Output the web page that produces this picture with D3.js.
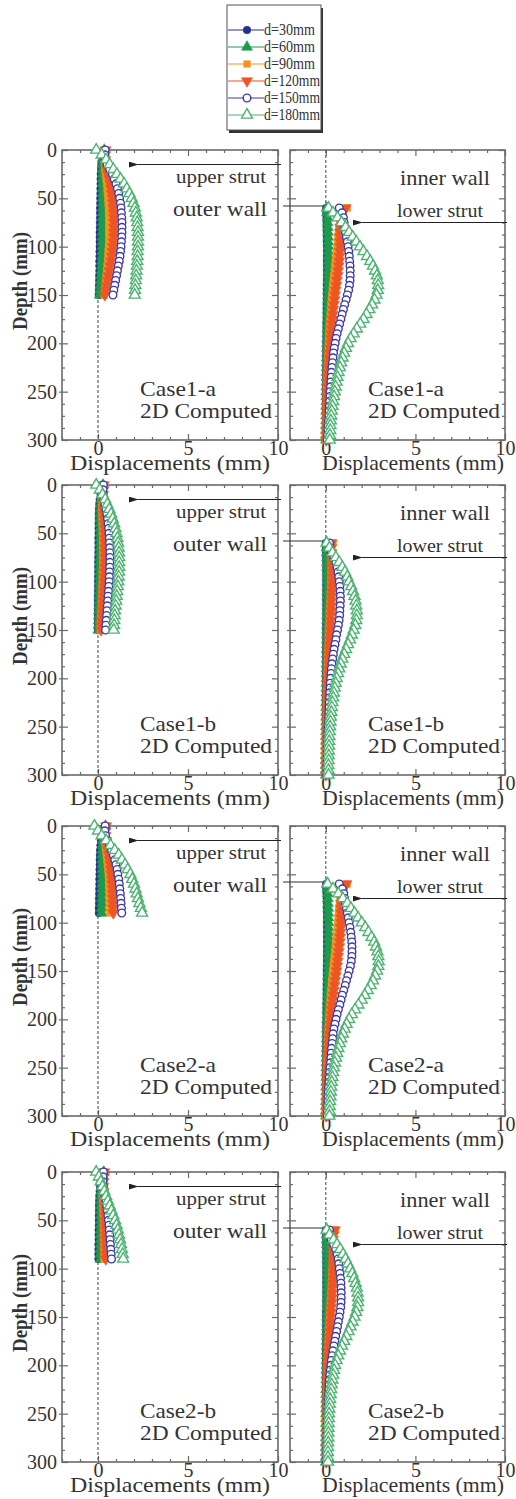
<!DOCTYPE html>
<html>
<head>
<meta charset="utf-8">
<script src="https://cdn.jsdelivr.net/npm/d3@7"></script>
<style>
body { margin: 0; background: #fff; }
text { font-family: "Liberation Serif", "Times New Roman", serif; fill: #333; }
.tick text { font-family: "Liberation Serif", "Times New Roman", serif; font-size: 20px; fill: #333; }
.tick line { stroke: #6a6a6a; stroke-width: 1.2; }
</style>
</head>
<body>
<svg id="chart" width="516" height="1499"></svg>
<script>
// SERIES / LABELS
var seriesNames = ["d=30mm", "d=60mm", "d=90mm", "d=120mm", "d=150mm", "d=180mm"];
var seriesColors = ["#24318f", "#1e9a4d", "#f7921e", "#ee5524", "#3c3aa8", "#4db371"];
var seriesSymbols = ["circle", "triangle", "square", "triangleDown", "circleOpen", "triangleOpen"];
var caseNames = ["Case1-a", "Case1-b", "Case2-a", "Case2-b"];
var xTicks = [0, 5, 10];
var yTicks = [0, 50, 100, 150, 200, 250, 300];

// DEPTHS (mm)
var depthOuterLong = [0,5,10,15,20,25,30,35,40,45,50,55,60,65,70,75,80,85,90,95,100,105,110,115,120,125,130,135,140,145,150];
var depthOuterShort = [0,5,10,15,20,25,30,35,40,45,50,55,60,65,70,75,80,85,90];
var depthInner = [60,65,70,75,80,85,90,95,100,105,110,115,120,125,130,135,140,145,150,155,160,165,170,175,180,185,190,195,200,205,210,215,220,225,230,235,240,245,250,255,260,265,270,275,280,285,290,295,300];

// CASE1-a (displacement, mm) - one row per series, d=30 ... d=180
var case1aOuter = [
  [0.35,0.3,0.25,0.2,0.18,0.16,0.15,0.15,0.14,0.14, 0.13,0.13,0.12,0.12,0.12,0.11,0.11,0.1,0.1,0.1, 0.1,0.09,0.09,0.08,0.08,0.08,0.07,0.07,0.06,0.06, 0.05],
  [0.35,0.32,0.28,0.26,0.25,0.25,0.25,0.25,0.26,0.26, 0.26,0.26,0.26,0.26,0.26,0.26,0.26,0.25,0.25,0.25, 0.24,0.23,0.22,0.21,0.2,0.19,0.17,0.16,0.14,0.12, 0.1],
  [0.4,0.38,0.36,0.36,0.38,0.42,0.45,0.48,0.5,0.52, 0.55,0.56,0.58,0.59,0.6,0.6,0.6,0.6,0.6,0.6, 0.58,0.56,0.55,0.53,0.5,0.48,0.45,0.42,0.4,0.37, 0.35],
  [0.42,0.4,0.4,0.42,0.48,0.55,0.62,0.68,0.72,0.76, 0.8,0.82,0.84,0.86,0.87,0.88,0.88,0.88,0.87,0.85, 0.83,0.8,0.76,0.72,0.68,0.63,0.58,0.53,0.48,0.43, 0.38],
  [0.4,0.38,0.4,0.5,0.65,0.8,0.9,1.0,1.08,1.15, 1.2,1.25,1.28,1.3,1.32,1.33,1.33,1.33,1.32,1.3, 1.28,1.25,1.22,1.18,1.13,1.08,1.03,0.98,0.93,0.88, 0.83],
  [-0.1,0.2,0.45,0.65,0.85,1.05,1.25,1.45,1.6,1.75, 1.87,1.97,2.05,2.1,2.15,2.18,2.2,2.22,2.22,2.22, 2.22,2.2,2.2,2.18,2.16,2.14,2.12,2.1,2.08,2.06, 2.04]
];
var case1aInner = [
  [0.02,0.03,0.04,0.05,0.05,0.06,0.06,0.06,0.07,0.07, 0.07,0.07,0.07,0.07,0.07,0.07,0.06,0.06,0.06,0.06, 0.05,0.05,0.05,0.05,0.04,0.04,0.04,0.04,0.03,0.03, 0.03,0.03,0.03,0.02,0.02,0.02,0.02,0.02,0.02,0.01, 0.01,0.01,0.01,0.01,0.01,0,0,0,0],
  [0.05,0.07,0.09,0.1,0.11,0.12,0.13,0.13,0.14,0.14, 0.14,0.14,0.14,0.14,0.13,0.13,0.13,0.12,0.12,0.11, 0.11,0.1,0.1,0.09,0.09,0.08,0.08,0.07,0.07,0.06, 0.06,0.05,0.05,0.05,0.04,0.04,0.04,0.03,0.03,0.03, 0.03,0.02,0.02,0.02,0.02,0.01,0.01,0.01,0.01],
  [1.2,0.95,0.82,0.76,0.72,0.69,0.66,0.64,0.61,0.59, 0.56,0.53,0.5,0.47,0.44,0.41,0.38,0.36,0.33,0.31, 0.29,0.27,0.25,0.23,0.21,0.19,0.17,0.16,0.14,0.13, 0.12,0.11,0.1,0.09,0.08,0.07,0.06,0.05,0.05,0.04, 0.04,0.03,0.03,0.02,0.02,0.01,0.01,0,0],
  [1.1,0.95,0.86,0.82,0.8,0.8,0.8,0.8,0.8,0.79, 0.77,0.75,0.72,0.69,0.66,0.62,0.59,0.55,0.52,0.49, 0.45,0.42,0.39,0.36,0.33,0.31,0.29,0.27,0.25,0.23, 0.21,0.19,0.17,0.16,0.14,0.13,0.12,0.11,0.09,0.08, 0.07,0.07,0.06,0.05,0.05,0.04,0.03,0.03,0.02],
  [0.75,0.9,0.98,1.02,1.06,1.1,1.15,1.2,1.24,1.28, 1.31,1.33,1.35,1.36,1.36,1.35,1.32,1.27,1.2,1.13, 1.05,0.98,0.91,0.84,0.77,0.7,0.63,0.57,0.52,0.47, 0.43,0.4,0.37,0.34,0.32,0.3,0.28,0.26,0.24,0.23, 0.21,0.2,0.18,0.17,0.15,0.13,0.12,0.1,0.08],
  [0.15,0.4,0.65,0.88,1.1,1.3,1.5,1.7,1.9,2.1, 2.3,2.48,2.63,2.75,2.85,2.9,2.92,2.9,2.83,2.72, 2.58,2.43,2.27,2.1,1.92,1.73,1.55,1.38,1.24,1.12, 1.02,0.93,0.85,0.78,0.71,0.65,0.6,0.55,0.5,0.46, 0.41,0.37,0.33,0.3,0.28,0.26,0.25,0.23,0.22]
];

// CASE1-b
var case1bOuter = [
  [0.25,0.2,0.15,0.1,0.08,0.06,0.05,0.05,0.04,0.04, 0.04,0.03,0.03,0.03,0.03,0.02,0.02,0.02,0.02,0.01, 0.01,0.01,0.01,0,0,0,0,0,0,0, 0],
  [0.28,0.24,0.2,0.16,0.14,0.13,0.12,0.12,0.12,0.12, 0.12,0.12,0.12,0.11,0.11,0.11,0.1,0.1,0.1,0.09, 0.09,0.08,0.08,0.07,0.07,0.06,0.05,0.05,0.04,0.03, 0.02],
  [0.3,0.27,0.24,0.22,0.21,0.21,0.22,0.23,0.24,0.25, 0.25,0.26,0.26,0.26,0.26,0.26,0.26,0.26,0.25,0.25, 0.24,0.23,0.22,0.21,0.2,0.19,0.17,0.16,0.14,0.13, 0.12],
  [0.32,0.3,0.28,0.27,0.28,0.3,0.32,0.34,0.35,0.36, 0.37,0.37,0.38,0.38,0.38,0.38,0.37,0.37,0.36,0.35, 0.34,0.33,0.31,0.3,0.28,0.26,0.25,0.23,0.21,0.19, 0.17],
  [0.3,0.28,0.28,0.32,0.38,0.44,0.49,0.53,0.56,0.59, 0.61,0.63,0.64,0.65,0.66,0.66,0.66,0.65,0.64,0.63, 0.62,0.6,0.58,0.56,0.54,0.52,0.5,0.48,0.46,0.44, 0.42],
  [-0.1,0.1,0.25,0.4,0.52,0.63,0.73,0.82,0.9,0.97, 1.03,1.08,1.12,1.15,1.17,1.18,1.18,1.18,1.17,1.15, 1.13,1.1,1.07,1.04,1.01,0.98,0.95,0.93,0.91,0.89, 0.87]
];
var case1bInner = [
  [0,0.01,0.02,0.02,0.03,0.03,0.03,0.03,0.03,0.03, 0.03,0.03,0.03,0.03,0.03,0.03,0.03,0.02,0.02,0.02, 0.02,0.02,0.02,0.02,0.02,0.01,0.01,0.01,0.01,0.01, 0.01,0.01,0.01,0.01,0.01,0.01,0,0,0,0, 0,0,0,0,0,0,0,0,0],
  [0.03,0.04,0.05,0.06,0.07,0.07,0.08,0.08,0.08,0.08, 0.08,0.08,0.08,0.08,0.08,0.07,0.07,0.07,0.07,0.06, 0.06,0.06,0.05,0.05,0.05,0.04,0.04,0.04,0.04,0.03, 0.03,0.03,0.03,0.02,0.02,0.02,0.02,0.02,0.01,0.01, 0.01,0.01,0.01,0.01,0,0,0,0,0],
  [0.4,0.34,0.31,0.3,0.3,0.3,0.29,0.29,0.28,0.27, 0.26,0.25,0.24,0.22,0.21,0.2,0.19,0.18,0.16,0.15, 0.14,0.13,0.12,0.11,0.1,0.09,0.09,0.08,0.08,0.07, 0.06,0.06,0.05,0.05,0.04,0.04,0.03,0.03,0.03,0.02, 0.02,0.02,0.01,0.01,0.01,0.01,0,0,0],
  [0.32,0.3,0.31,0.33,0.35,0.36,0.36,0.36,0.36,0.35, 0.34,0.33,0.32,0.31,0.3,0.28,0.27,0.25,0.24,0.23, 0.22,0.2,0.19,0.18,0.17,0.16,0.15,0.14,0.12,0.11, 0.1,0.1,0.09,0.08,0.07,0.07,0.06,0.05,0.05,0.04, 0.04,0.03,0.03,0.02,0.02,0.01,0.01,0.01,0],
  [0.2,0.22,0.3,0.45,0.56,0.63,0.68,0.72,0.75,0.78, 0.8,0.81,0.81,0.8,0.78,0.77,0.74,0.7,0.65,0.6, 0.56,0.51,0.46,0.42,0.38,0.34,0.31,0.29,0.27,0.25, 0.24,0.22,0.21,0.19,0.18,0.17,0.16,0.15,0.13,0.12, 0.11,0.1,0.09,0.09,0.08,0.07,0.06,0.06,0.05],
  [0.05,0.2,0.37,0.56,0.75,0.92,1.07,1.2,1.3,1.42, 1.52,1.6,1.66,1.7,1.73,1.73,1.7,1.64,1.55,1.45, 1.35,1.24,1.13,1.02,0.92,0.83,0.75,0.68,0.61,0.55, 0.5,0.45,0.41,0.37,0.34,0.31,0.28,0.26,0.24,0.22, 0.2,0.19,0.18,0.17,0.16,0.16,0.15,0.15,0.15]
];

// CASE2-a
var case2aOuter = [
  [0.4,0.3,0.22,0.17,0.14,0.12,0.11,0.1,0.1,0.09, 0.09,0.08,0.08,0.07,0.07,0.06,0.06,0.05,0.05],
  [0.42,0.35,0.3,0.27,0.25,0.24,0.24,0.24,0.24,0.24, 0.24,0.24,0.23,0.23,0.23,0.22,0.22,0.21,0.21],
  [0.45,0.4,0.37,0.37,0.4,0.43,0.46,0.49,0.52,0.55, 0.57,0.59,0.6,0.61,0.62,0.63,0.64,0.64,0.65],
  [0.45,0.42,0.42,0.45,0.5,0.55,0.6,0.64,0.68,0.71, 0.74,0.76,0.78,0.8,0.81,0.82,0.83,0.84,0.85],
  [0.4,0.38,0.42,0.52,0.64,0.75,0.85,0.93,1.0,1.06, 1.1,1.15,1.18,1.21,1.24,1.26,1.28,1.3,1.32],
  [-0.2,0.0,0.2,0.45,0.7,0.93,1.15,1.33,1.5,1.65, 1.8,1.9,2.0,2.08,2.15,2.22,2.3,2.38,2.45]
];
var case2aInner = [
  [0.02,0.03,0.04,0.05,0.06,0.06,0.07,0.07,0.07,0.07, 0.07,0.07,0.07,0.07,0.07,0.07,0.07,0.06,0.06,0.06, 0.06,0.05,0.05,0.05,0.05,0.04,0.04,0.04,0.04,0.03, 0.03,0.03,0.03,0.02,0.02,0.02,0.02,0.02,0.02,0.01, 0.01,0.01,0.01,0.01,0.01,0,0,0,0],
  [0.05,0.08,0.1,0.11,0.12,0.13,0.14,0.14,0.15,0.15, 0.15,0.15,0.15,0.15,0.14,0.14,0.14,0.13,0.13,0.12, 0.12,0.11,0.11,0.1,0.09,0.09,0.08,0.08,0.07,0.07, 0.06,0.06,0.05,0.05,0.05,0.04,0.04,0.03,0.03,0.03, 0.03,0.02,0.02,0.02,0.02,0.01,0.01,0.01,0.01],
  [1.2,0.95,0.83,0.78,0.75,0.72,0.7,0.68,0.65,0.63, 0.61,0.58,0.56,0.53,0.5,0.47,0.44,0.41,0.38,0.36, 0.33,0.31,0.28,0.26,0.24,0.22,0.2,0.18,0.16,0.15, 0.13,0.12,0.11,0.1,0.09,0.08,0.07,0.06,0.05,0.05, 0.04,0.03,0.03,0.02,0.02,0.01,0.01,0,0],
  [1.15,1.0,0.9,0.86,0.85,0.85,0.85,0.85,0.85,0.84, 0.82,0.8,0.78,0.75,0.72,0.69,0.66,0.63,0.6,0.56, 0.52,0.49,0.45,0.42,0.38,0.35,0.32,0.29,0.27,0.24, 0.22,0.2,0.18,0.17,0.15,0.14,0.13,0.12,0.1,0.09, 0.08,0.07,0.06,0.06,0.05,0.04,0.03,0.03,0.02],
  [0.75,0.92,1.0,1.05,1.1,1.15,1.2,1.25,1.3,1.35, 1.39,1.42,1.45,1.46,1.46,1.45,1.42,1.37,1.3,1.23, 1.15,1.08,1.0,0.92,0.85,0.78,0.7,0.63,0.57,0.51, 0.45,0.41,0.38,0.35,0.32,0.3,0.28,0.26,0.23,0.21, 0.19,0.17,0.15,0.14,0.13,0.12,0.1,0.09,0.08],
  [0.1,0.4,0.7,0.95,1.2,1.4,1.6,1.8,2.0,2.2, 2.38,2.55,2.7,2.8,2.88,2.93,2.95,2.93,2.86,2.75, 2.63,2.5,2.34,2.17,2.0,1.82,1.63,1.45,1.3,1.16, 1.05,0.95,0.86,0.78,0.7,0.63,0.57,0.51,0.45,0.41, 0.37,0.33,0.3,0.28,0.26,0.24,0.22,0.21,0.2]
];

// CASE2-b
var case2bOuter = [
  [0.3,0.22,0.16,0.12,0.1,0.08,0.07,0.06,0.06,0.05, 0.05,0.05,0.04,0.04,0.04,0.03,0.03,0.03,0.03],
  [0.32,0.27,0.22,0.19,0.17,0.16,0.15,0.15,0.15,0.15, 0.15,0.15,0.14,0.14,0.14,0.14,0.13,0.13,0.13],
  [0.33,0.3,0.27,0.25,0.25,0.25,0.26,0.27,0.28,0.29, 0.3,0.3,0.31,0.31,0.32,0.32,0.32,0.33,0.33],
  [0.35,0.33,0.31,0.3,0.31,0.33,0.35,0.36,0.37,0.38, 0.39,0.4,0.41,0.41,0.42,0.42,0.43,0.43,0.43],
  [0.3,0.28,0.28,0.3,0.34,0.39,0.44,0.48,0.52,0.55, 0.58,0.61,0.63,0.65,0.67,0.69,0.71,0.73,0.75],
  [-0.1,0.05,0.15,0.25,0.35,0.45,0.55,0.65,0.75,0.85, 0.95,1.03,1.1,1.17,1.23,1.28,1.33,1.37,1.4]
];
var case2bInner = [
  [0,0.01,0.02,0.02,0.03,0.03,0.03,0.03,0.03,0.03, 0.03,0.03,0.03,0.03,0.03,0.03,0.03,0.02,0.02,0.02, 0.02,0.02,0.02,0.02,0.02,0.01,0.01,0.01,0.01,0.01, 0.01,0.01,0.01,0.01,0.01,0.01,0,0,0,0, 0,0,0,0,0,0,0,0,0],
  [0.03,0.04,0.05,0.06,0.07,0.08,0.08,0.09,0.09,0.09, 0.09,0.09,0.09,0.09,0.08,0.08,0.08,0.08,0.07,0.07, 0.07,0.06,0.06,0.05,0.05,0.05,0.04,0.04,0.04,0.03, 0.03,0.03,0.03,0.02,0.02,0.02,0.02,0.02,0.01,0.01, 0.01,0.01,0.01,0.01,0,0,0,0,0],
  [0.52,0.45,0.42,0.41,0.4,0.39,0.38,0.37,0.35,0.34, 0.33,0.31,0.3,0.28,0.27,0.25,0.24,0.22,0.2,0.19, 0.17,0.16,0.15,0.13,0.12,0.11,0.1,0.09,0.08,0.07, 0.07,0.06,0.05,0.05,0.04,0.04,0.03,0.03,0.03,0.02, 0.02,0.02,0.01,0.01,0.01,0.01,0,0,0],
  [0.5,0.43,0.4,0.4,0.4,0.4,0.41,0.41,0.41,0.4, 0.39,0.38,0.37,0.36,0.35,0.33,0.31,0.29,0.28,0.26, 0.25,0.23,0.21,0.2,0.18,0.17,0.15,0.14,0.13,0.12, 0.11,0.1,0.09,0.08,0.08,0.07,0.06,0.06,0.05,0.05, 0.04,0.04,0.03,0.03,0.03,0.02,0.02,0.02,0.02],
  [0.2,0.22,0.3,0.43,0.55,0.63,0.69,0.72,0.75,0.79, 0.82,0.84,0.85,0.86,0.86,0.85,0.83,0.79,0.75,0.7, 0.65,0.6,0.55,0.5,0.45,0.4,0.35,0.31,0.28,0.25, 0.22,0.2,0.18,0.17,0.15,0.14,0.13,0.12,0.11,0.1, 0.09,0.08,0.07,0.06,0.06,0.05,0.04,0.04,0.03],
  [0.05,0.2,0.43,0.62,0.8,0.96,1.1,1.24,1.36,1.48, 1.58,1.66,1.73,1.77,1.8,1.8,1.76,1.69,1.6,1.49, 1.38,1.27,1.15,1.02,0.9,0.79,0.69,0.6,0.52,0.46, 0.41,0.37,0.33,0.3,0.27,0.24,0.22,0.2,0.18,0.17, 0.16,0.15,0.14,0.14,0.13,0.13,0.12,0.12,0.12]
];

// LAYOUT
var svg = d3.select("#chart");
var rowTops = [150, 485, 826, 1172];
var plotH = 290;
var leftX = [62, 278], rightX = [290, 505];
var upperStrutDepth = 15, lowerStrutDepth = 75, innerTopDepth = 58;

var rows = [
  {name: caseNames[0], outer: case1aOuter, outerDepth: depthOuterLong, inner: case1aInner},
  {name: caseNames[1], outer: case1bOuter, outerDepth: depthOuterLong, inner: case1bInner},
  {name: caseNames[2], outer: case2aOuter, outerDepth: depthOuterShort, inner: case2aInner},
  {name: caseNames[3], outer: case2bOuter, outerDepth: depthOuterShort, inner: case2bInner}
];

// arrowhead
svg.append("defs").append("marker")
    .attr("id", "arrow").attr("viewBox", "0 0 10 6")
    .attr("refX", 1).attr("refY", 3)
    .attr("markerWidth", 10).attr("markerHeight", 6)
    .attr("markerUnits", "userSpaceOnUse")
    .attr("orient", "auto-start-reverse")
  .append("path").attr("d", "M0,3L10,0L10,6Z").attr("fill", "#222");

function symbolPath(kind) {
    if (kind.indexOf("circle") === 0) return d3.symbol(d3.symbolCircle, 46)();
    if (kind === "square") return d3.symbol(d3.symbolSquare, 42)();
    return d3.symbol(d3.symbolTriangle, 52)();
}

function drawMarker(sel, i) {
    var kind = seriesSymbols[i];
    var open = kind.indexOf("Open") > 0;
    sel.attr("d", symbolPath(kind))
        .attr("fill", open ? "#fff" : seriesColors[i])
        .attr("stroke", seriesColors[i])
        .attr("stroke-width", open ? 1.4 : 0.6);
}

function addText(g, str, x, y, size, len, anchor) {
    var t = g.append("text").attr("x", x).attr("y", y)
        .attr("font-size", size).attr("text-anchor", anchor || "start").text(str);
    if (len) t.attr("textLength", len).attr("lengthAdjust", "spacingAndGlyphs");
    return t;
}

function noDomain(g) { g.select(".domain").remove(); }

function drawPanel(xr, top, data, depths, isLeft, caseName) {
    var x = d3.scaleLinear().domain([-2, 10]).range(xr);
    var y = d3.scaleLinear().domain([0, 300]).range([top, top + plotH]);
    var g = svg.append("g");
    var xMinor = [-2, -1, 1, 2, 3, 4, 6, 7, 8, 9];
    var yMinor = yTicks.slice(0, -1).map(function(d) { return [d + 12.5, d + 25, d + 37.5]; })
        .reduce(function(a, b) { return a.concat(b); }, []);

    // ticks
    g.append("g").attr("transform", "translate(0," + (top + plotH) + ")")
        .call(d3.axisBottom(x).tickValues(xTicks).tickSize(-6).tickPadding(1).tickFormat(d3.format("d"))).call(noDomain);
    g.append("g").attr("transform", "translate(0," + (top + plotH) + ")")
        .call(d3.axisBottom(x).tickValues(xMinor).tickSize(-3).tickFormat("")).call(noDomain);
    g.append("g").attr("transform", "translate(0," + top + ")")
        .call(d3.axisTop(x).tickValues(xTicks).tickSize(-6).tickFormat("")).call(noDomain);
    g.append("g").attr("transform", "translate(0," + top + ")")
        .call(d3.axisTop(x).tickValues(xMinor).tickSize(-3).tickFormat("")).call(noDomain);
    g.append("g").attr("transform", "translate(" + xr[0] + ",0)")
        .call(d3.axisLeft(y).tickValues(yTicks).tickSize(-6).tickPadding(5)
            .tickFormat(isLeft ? d3.format("d") : "")).call(noDomain);
    g.append("g").attr("transform", "translate(" + xr[0] + ",0)")
        .call(d3.axisLeft(y).tickValues(yTicks.slice(1, -1)).tickSize(3).tickFormat("")).call(noDomain);
    g.append("g").attr("transform", "translate(" + xr[0] + ",0)")
        .call(d3.axisLeft(y).tickValues(yMinor).tickSize(-3).tickFormat("")).call(noDomain);
    g.append("g").attr("transform", "translate(" + xr[1] + ",0)")
        .call(d3.axisRight(y).tickValues(yTicks).tickSize(-6).tickFormat("")).call(noDomain);
    g.append("g").attr("transform", "translate(" + xr[1] + ",0)")
        .call(d3.axisRight(y).tickValues(yMinor).tickSize(-3).tickFormat("")).call(noDomain);

    // frame
    g.append("rect").attr("x", xr[0]).attr("y", top)
        .attr("width", xr[1] - xr[0]).attr("height", plotH)
        .attr("fill", "none").attr("stroke", "#6a6a6a").attr("stroke-width", 1.6);

    // zero line
    g.append("line").attr("x1", x(0)).attr("x2", x(0)).attr("y1", top).attr("y2", top + plotH)
        .attr("stroke", "#444").attr("stroke-width", 1).attr("stroke-dasharray", "3,2");

    // annotations
    if (isLeft) {
        g.append("line").attr("x1", xr[1] + 3).attr("x2", x(2.2))
            .attr("y1", y(upperStrutDepth)).attr("y2", y(upperStrutDepth))
            .attr("stroke", "#222").attr("stroke-width", 1.1).attr("marker-end", "url(#arrow)");
        addText(g, "upper strut", xr[0] + 159, top + 33, 18, 90, "middle");
        addText(g, "outer wall", xr[0] + 158, top + 66, 21, 94, "middle");
        addText(g, "Depth (mm)", 0, 0, 20, 98, "middle")
            .attr("font-weight", "bold")
            .attr("transform", "translate(27," + (top + 131) + ") rotate(-90)");
        addText(g, "Displacements (mm)", (xr[0] + xr[1]) / 2, top + 320, 21, 200, "middle");
    } else {
        g.append("line").attr("x1", 283).attr("x2", x(0))
            .attr("y1", y(innerTopDepth)).attr("y2", y(innerTopDepth))
            .attr("stroke", "#333").attr("stroke-width", 1.1);
        g.append("line").attr("x1", xr[1] + 2).attr("x2", x(2.0))
            .attr("y1", y(lowerStrutDepth)).attr("y2", y(lowerStrutDepth))
            .attr("stroke", "#222").attr("stroke-width", 1.1).attr("marker-end", "url(#arrow)");
        addText(g, "inner wall", xr[0] + 155, top + 35, 21, 90, "middle");
        addText(g, "lower strut", xr[0] + 150, top + 67, 18, 86, "middle");
        addText(g, "Displacements (mm)", xr[0] + 123, top + 320, 21, 182, "middle");
    }
    addText(g, caseName, xr[0] + 78, top + 246, 22, 76);
    addText(g, "2D Computed", xr[0] + 78, top + 268, 22, 132);

    // series
    var line = d3.line().x(function(d) { return x(d[0]); }).y(function(d) { return y(d[1]); });
    data.forEach(function(vals, i) {
        var pts = vals.map(function(v, k) { return [v, depths[k]]; });
        var s = g.append("g");
        s.append("path").attr("d", line(pts)).attr("fill", "none")
            .attr("stroke", seriesColors[i]).attr("stroke-width", 1);
        s.selectAll("path.pt").data(pts).enter().append("path").attr("class", "pt")
            .attr("transform", function(d) {
                return "translate(" + x(d[0]) + "," + y(d[1]) + ")" +
                    (seriesSymbols[i] === "triangleDown" ? " rotate(180)" : "");
            })
            .call(drawMarker, i);
    });
}

rows.forEach(function(r, i) {
    drawPanel(leftX, rowTops[i], r.outer, r.outerDepth, true, r.name);
    drawPanel(rightX, rowTops[i], r.inner, depthInner, false, r.name);
});

// LEGEND
var lg = svg.append("g");
lg.append("rect").attr("x", 229).attr("y", 8).attr("width", 94).attr("height", 125).attr("fill", "#333");
lg.append("rect").attr("x", 227).attr("y", 5).attr("width", 94).attr("height", 125)
    .attr("fill", "#fff").attr("stroke", "#555").attr("stroke-width", 1);
seriesNames.forEach(function(name, i) {
    var yy = 30 + i * 17;
    lg.append("line").attr("x1", 228).attr("x2", 264).attr("y1", yy).attr("y2", yy)
        .attr("stroke", seriesColors[i]).attr("stroke-width", 1.1);
    lg.append("path").attr("transform", "translate(247," + yy + ")" +
            (seriesSymbols[i] === "triangleDown" ? " rotate(180)" : ""))
        .call(drawMarker, i);
    addText(lg, name, 264, yy + 5, 16, name.length > 6 ? 56 : 51);
});
</script>
</body>
</html>
